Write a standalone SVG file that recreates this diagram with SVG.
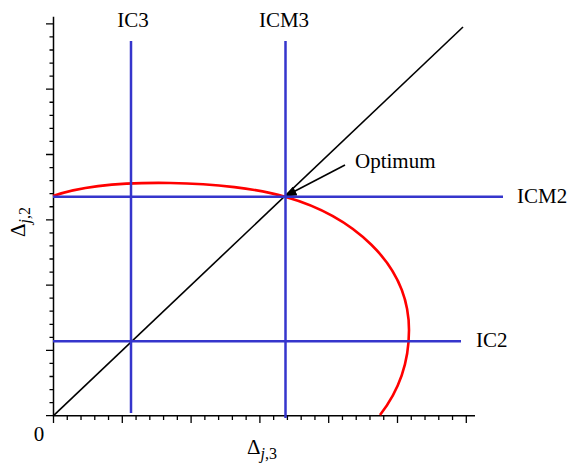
<svg xmlns="http://www.w3.org/2000/svg" width="568" height="463" viewBox="0 0 568 463">
<style>
text{font-family:"Liberation Serif","Times New Roman",serif;font-size:21px;fill:#000}
.ax{stroke:#000;stroke-width:1.5;fill:none}
.tk{stroke:#000;stroke-width:1.3;fill:none}
.blue{stroke:#3535cc;stroke-width:2.5;fill:none}
.red{stroke:#ff0000;stroke-width:2.6;fill:none}
.diag{stroke:#000;stroke-width:1.6;fill:none}
</style>
<defs>
<marker id="ah" markerWidth="12" markerHeight="10" refX="11" refY="5" orient="auto" markerUnits="userSpaceOnUse">
<path d="M0,0 L12,5 L0,10 Z" fill="#000"/>
</marker>
</defs>
<g id="axes">
<path class="ax" d="M53.5,16.7 V415.7 H475"/>
<path class="tk" d="M46,415.7H53.5M46,350.4H53.5M46,285.1H53.5M46,219.8H53.5M46,154.5H53.5M46,89.2H53.5M46,23.9H53.5
M49.5,402.64H53.5M49.5,389.58H53.5M49.5,376.52H53.5M49.5,363.46H53.5
M49.5,337.34H53.5M49.5,324.28H53.5M49.5,311.22H53.5M49.5,298.16H53.5
M49.5,272.04H53.5M49.5,258.98H53.5M49.5,245.92H53.5M49.5,232.86H53.5
M49.5,206.74H53.5M49.5,193.68H53.5M49.5,180.62H53.5M49.5,167.56H53.5
M49.5,141.44H53.5M49.5,128.38H53.5M49.5,115.32H53.5M49.5,102.26H53.5
M49.5,76.14H53.5M49.5,63.08H53.5M49.5,50.02H53.5M49.5,36.96H53.5"/>
<path class="tk" d="M53.5,415.7V423M122.3,415.7V423M191.1,415.7V423M259.9,415.7V423M328.7,415.7V423M397.5,415.7V423M466.3,415.7V423
M67.26,415.7V420M81.02,415.7V420M94.78,415.7V420M108.54,415.7V420
M136.06,415.7V420M149.82,415.7V420M163.58,415.7V420M177.34,415.7V420
M204.86,415.7V420M218.62,415.7V420M232.38,415.7V420M246.14,415.7V420
M273.66,415.7V420M287.42,415.7V420M301.18,415.7V420M314.94,415.7V420
M342.46,415.7V420M356.22,415.7V420M369.98,415.7V420M383.74,415.7V420
M411.26,415.7V420M425.02,415.7V420M438.78,415.7V420M452.54,415.7V420"/>
<text x="39" y="441" text-anchor="middle">0</text>
<text x="247" y="454">Δ<tspan font-size="16" dy="5" font-style="italic">j</tspan><tspan font-size="16">,3</tspan></text>
<text transform="translate(25,237) rotate(-90)">Δ<tspan font-size="16" dy="5" font-style="italic">j</tspan><tspan font-size="16">,2</tspan></text>
</g>
<g id="connectors">
<path class="diag" d="M53.5,415.7 L463,27"/>
<path class="diag" d="M345,165 L285.5,196" marker-end="url(#ah)"/>
</g>
<g id="curve">
<path class="red" d="M53,196 C110,176 232,181 285,196.7 C350,215 409,262 409,330 C409,365 398,392 380,415"/>
</g>
<g id="IC3">
<path class="blue" d="M131,41 V413"/>
<text x="133" y="27" text-anchor="middle">IC3</text>
</g>
<g id="ICM3">
<path class="blue" d="M285.5,41 V418"/>
<text x="284" y="27" text-anchor="middle">ICM3</text>
</g>
<g id="ICM2">
<path class="blue" d="M53,196.7 H503"/>
<text x="517" y="203">ICM2</text>
</g>
<g id="IC2">
<path class="blue" d="M53,341.3 H461"/>
<text x="476" y="347">IC2</text>
</g>
<g id="Optimum">
<text x="355" y="168">Optimum</text>
</g>
</svg>
